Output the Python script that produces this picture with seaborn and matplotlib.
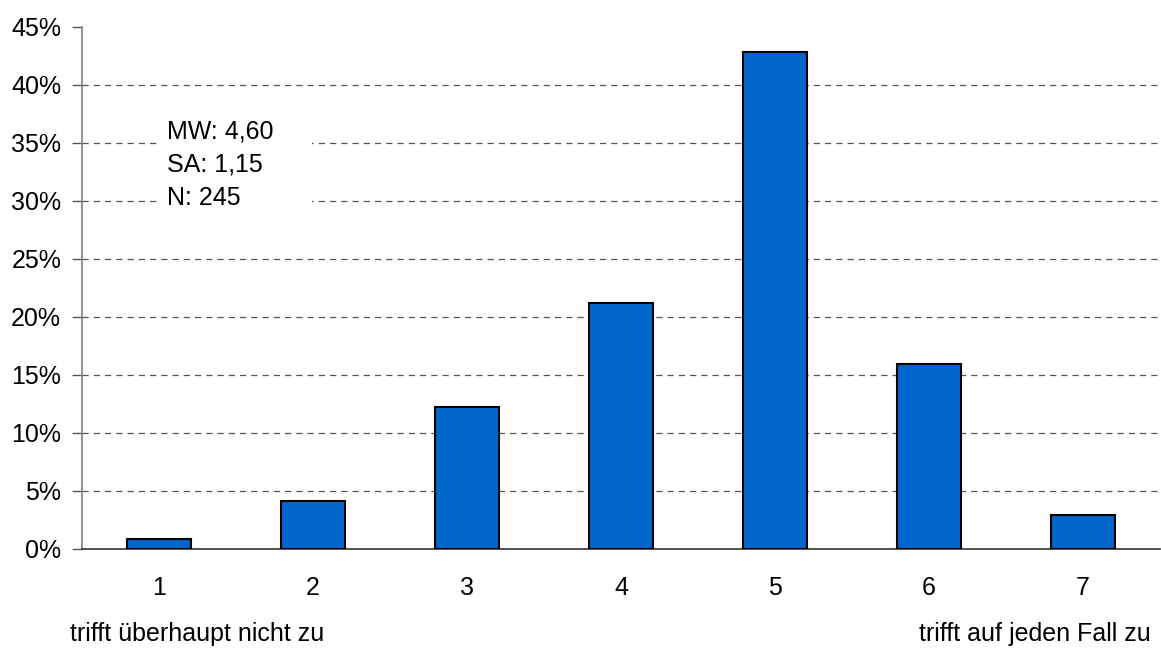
import matplotlib
matplotlib.use("Agg")
import matplotlib.pyplot as plt
import seaborn as sns
import pandas as pd
from matplotlib.patches import Rectangle
from matplotlib.ticker import FuncFormatter, MultipleLocator

# answer categories and share of respondents (%)
categories = ["1", "2", "3", "4", "5", "6", "7"]
shares = [0.82, 4.08, 12.24, 21.22, 42.86, 15.92, 2.86]
stats_text = "MW: 4,60\nSA: 1,15\nN: 245"
left_label = "trifft überhaupt nicht zu"
right_label = "trifft auf jeden Fall zu"

sns.set_style("white")
plt.rcParams['font.family'] = ['Liberation Sans', 'DejaVu Sans']
plt.rcParams['text.color'] = 'black'
plt.rcParams['xtick.labelcolor'] = 'black'
plt.rcParams['ytick.labelcolor'] = 'black'

fs = 18

fig = plt.figure(figsize=(11.61, 6.48), dpi=100)
ax = fig.add_axes([82 / 1161, 1 - 548.5 / 648, 1078 / 1161, 521.5 / 648])

df = pd.DataFrame({"cat": categories, "share": shares})
sns.barplot(data=df, x="cat", y="share", color="#0066CC", saturation=1,
            width=0.41, edgecolor="black", linewidth=1.5, ax=ax, zorder=3)

ax.set_xlim(-0.5, 6.5)
ax.set_ylim(0, 45)
ax.yaxis.set_major_locator(MultipleLocator(5))
ax.yaxis.set_major_formatter(FuncFormatter(lambda v, p: f"{v:.0f}%"))
ax.grid(False)
# dashed gridlines (none at the top tick)
for level in range(5, 45, 5):
    ax.axhline(level, linestyle=(0, (5, 4)), color="#555555", linewidth=0.9, zorder=0.5)

# category boundaries as ticks on x
ax.set_xticks([i - 0.5 for i in range(8)], minor=True)
ax.tick_params(axis="x", which="minor", length=7, width=1, color="#333333", direction="out")
ax.tick_params(axis="x", which="major", length=0, pad=20, labelsize=fs)
ax.tick_params(axis="y", length=7, width=1, color="#555555", direction="out",
               pad=8, labelsize=fs, left=True)
ax.set_xlabel("")
ax.set_ylabel("")

for side in ["top", "right"]:
    ax.spines[side].set_visible(False)
ax.spines["left"].set_color("#808080")
ax.spines["left"].set_linewidth(1.2)
ax.spines["bottom"].set_color("#333333")
ax.spines["bottom"].set_linewidth(1.2)

# white box behind the statistics
ax.add_patch(Rectangle((0.072, 0.635), 0.141, 0.21, transform=ax.transAxes,
                       facecolor="white", edgecolor="none", zorder=1))
ax.text(0.0788, 0.823, stats_text, transform=ax.transAxes, fontsize=fs,
        va="top", ha="left", linespacing=1.5, zorder=2)

fig.text(70 / 1161, 1 - 634 / 648, left_label, fontsize=fs, va="center", ha="left")
fig.text(1151 / 1161, 1 - 634 / 648, right_label, fontsize=fs, va="center", ha="right")

fig.savefig("out.png", dpi=100)
